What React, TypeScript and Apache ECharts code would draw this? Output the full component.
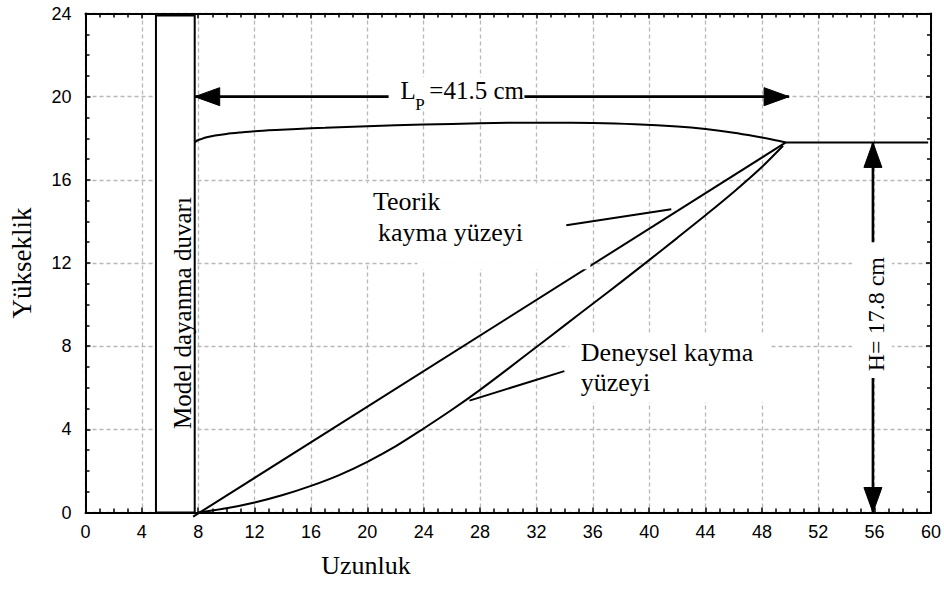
import React, { useEffect, useRef } from "react";
import * as echarts from "echarts";

// ---- data (x: Uzunluk, y: Yükseklik) ----
const theoreticalSurface: number[][] = [
  [7.64, -0.2],
  [49.7, 17.8],
];
const experimentalSurface: number[][] = [
  [8.0, 0], [10, 0.2], [12, 0.48], [14, 0.84], [16, 1.28], [18, 1.8], [20, 2.44],
  [22, 3.18], [24, 4.04], [26, 4.94], [28, 5.9], [30, 6.92], [32, 7.96], [34, 9.0],
  [36, 10.04], [38, 11.08], [40, 12.14], [42, 13.21], [44, 14.3], [46, 15.42],
  [48, 16.62], [49.5, 17.64],
];
const wedgeTop: number[][] = [
  [7.75, 17.8], [7.9, 17.88], [8.2, 17.96], [8.6, 18.05], [9.2, 18.13], [10, 18.21],
  [11, 18.28], [12, 18.34], [13.5, 18.4], [15, 18.45], [17, 18.5], [19, 18.55],
  [22, 18.62], [26, 18.69], [30, 18.74], [33, 18.75], [36, 18.73], [39, 18.67],
  [42, 18.56], [44, 18.44], [46, 18.27], [47.5, 18.1], [48.8, 17.93], [49.7, 17.8],
];
const groundSurface: number[][] = [
  [49.7, 17.8],
  [59.8, 17.8],
];
const wallCorners: number[][] = [
  [5, 23.9],
  [7.75, 0],
];
const lpArrow: number[][] = [
  [7.75, 20],
  [49.93, 20],
];
const hArrow: number[][] = [
  [55.88, 17.8],
  [55.88, 0],
];
const teorikPointer: number[][] = [
  [34.12, 13.82],
  [41.57, 14.59],
];
const deneyselPointer: number[][] = [
  [33.98, 6.8],
  [27.25, 5.38],
];
// white label backgrounds: [x0, y0, x1, y1]
const labelMasks: number[][] = [
  [21.51, 20.94, 31.15, 19.45],
  [19.6, 15.84, 35.83, 12.04],
  [23.56, 12.04, 35.83, 11.7],
  [34.34, 8.53, 48.5, 5.31],
  [54.39, 13.0, 57.23, 6.47],
];
// annotation texts: [x, y, text, size, rotated(0/1), align]
const annotationTexts: (string | number)[][] = [
  [6.91, 9.59, "Model dayanma duvarı", 25, 1, "center"],
  [22.36, 20.32, "L", 25, 0, "left"],
  [23.4, 19.64, "P", 17, 0, "left"],
  [24.4, 20.32, "=41.5 cm", 25, 0, "left"],
  [20.4, 14.98, "Teorik", 26, 0, "left"],
  [20.75, 13.45, "kayma yüzeyi", 26, 0, "left"],
  [35.15, 7.68, "Deneysel kayma", 26, 0, "left"],
  [35.15, 6.27, "yüzeyi", 26, 0, "left"],
  [56.08, 9.54, "H= 17.8 cm", 24, 1, "center"],
];

const SERIF = "'Liberation Serif', 'Times New Roman', serif";
const SANS = "'Liberation Sans', Arial, sans-serif";

function arrowHead(tip: number[], from: number[], len: number, half: number) {
  const dx = tip[0] - from[0];
  const dy = tip[1] - from[1];
  const d = Math.sqrt(dx * dx + dy * dy) || 1;
  const ux = dx / d;
  const uy = dy / d;
  const bx = tip[0] - ux * len;
  const by = tip[1] - uy * len;
  return {
    type: "polygon",
    shape: {
      points: [
        [tip[0], tip[1]],
        [bx - uy * half, by + ux * half],
        [bx + uy * half, by - ux * half],
      ],
    },
    style: { fill: "#000", stroke: "#000", lineWidth: 1 },
  };
}

function renderAnnotations(_params: any, api: any) {
  const children: any[] = [];
  // wall
  const w0 = api.coord(wallCorners[0]);
  const w1 = api.coord(wallCorners[1]);
  children.push({
    type: "rect",
    shape: { x: w0[0], y: w0[1], width: w1[0] - w0[0], height: w1[1] - w0[1] },
    style: { fill: "#fff", stroke: "#000", lineWidth: 2 },
  });
  // arrows
  for (const arr of [lpArrow, hArrow]) {
    const a = api.coord(arr[0]);
    const b = api.coord(arr[1]);
    children.push({
      type: "line",
      shape: { x1: a[0], y1: a[1], x2: b[0], y2: b[1] },
      style: { stroke: "#000", lineWidth: 2.6 },
    });
    children.push(arrowHead(a, b, 25, 9));
    children.push(arrowHead(b, a, 25, 9));
  }
  // white masks
  for (const m of labelMasks) {
    const p0 = api.coord([m[0], m[1]]);
    const p1 = api.coord([m[2], m[3]]);
    children.push({
      type: "rect",
      shape: { x: p0[0], y: p0[1], width: p1[0] - p0[0], height: p1[1] - p0[1] },
      style: { fill: "#fff" },
    });
  }
  // pointers
  for (const pt of [teorikPointer, deneyselPointer]) {
    const a = api.coord(pt[0]);
    const b = api.coord(pt[1]);
    children.push({
      type: "line",
      shape: { x1: a[0], y1: a[1], x2: b[0], y2: b[1] },
      style: { stroke: "#000", lineWidth: 2 },
    });
  }
  // texts
  for (const t of annotationTexts) {
    const p = api.coord([t[0] as number, t[1] as number]);
    children.push({
      type: "text",
      x: p[0],
      y: p[1],
      rotation: t[4] ? Math.PI / 2 : 0,
      style: {
        text: t[2] as string,
        fill: "#000",
        fontSize: t[3] as number,
        fontFamily: SERIF,
        align: t[5] as string,
        verticalAlign: "middle",
      },
    });
  }
  return { type: "group", children };
}

export default function App() {
  const ref = useRef<HTMLDivElement>(null);
  useEffect(() => {
    if (!ref.current) return;
    const chart = echarts.init(ref.current, undefined, { renderer: "svg" });
    const gridLine = { show: true, lineStyle: { color: "#b8b8b8", type: [4, 3], width: 1.3 } };
    const axisLine = { show: true, onZero: false, lineStyle: { color: "#000", width: 2 } };
    const axisTick = { show: true, inside: true, length: 5, lineStyle: { color: "#000", width: 1.5 } };
    const minorTick = { show: true, splitNumber: 4, length: 4, lineStyle: { color: "#000", width: 1.5 } };
    const lineSeries = (data: number[][], extra: any = {}) => ({
      type: "line",
      data,
      showSymbol: false,
      symbol: "none",
      lineStyle: { color: "#000", width: 2 },
      silent: true,
      z: 2,
      ...extra,
    });
    chart.setOption({
      animation: false,
      backgroundColor: "#fff",
      grid: { left: 85.5, right: 12, top: 13.5, bottom: 77.5, containLabel: false },
      xAxis: [
        {
          type: "value", min: 0, max: 60, interval: 4, position: "bottom",
          axisLine, axisTick, minorTick, splitLine: gridLine,
          axisLabel: { color: "#000", fontSize: 18, fontFamily: SANS, margin: 10 },
        },
        {
          type: "value", min: 0, max: 60, interval: 4, position: "top",
          axisLine, axisTick, minorTick, splitLine: { show: false },
          axisLabel: { show: false },
        },
      ],
      yAxis: [
        {
          type: "value", min: 0, max: 24, interval: 4, position: "left",
          axisLine, axisTick, minorTick, splitLine: gridLine,
          axisLabel: { color: "#000", fontSize: 18, fontFamily: SANS, margin: 14 },
        },
        {
          type: "value", min: 0, max: 24, interval: 4, position: "right",
          axisLine, axisTick, minorTick, splitLine: { show: false },
          axisLabel: { show: false },
        },
      ],
      graphic: [
        {
          type: "text", x: 366, y: 565,
          style: { text: "Uzunluk", fill: "#000", fontSize: 26, fontFamily: SERIF, align: "center", verticalAlign: "middle" },
        },
        {
          type: "text", x: 22, y: 263, rotation: Math.PI / 2,
          style: { text: "Yükseklik", fill: "#000", fontSize: 27, fontFamily: SERIF, align: "center", verticalAlign: "middle" },
        },
      ],
      series: [
        lineSeries(theoreticalSurface, { clip: false }),
        lineSeries(experimentalSurface, { smooth: 0.3 }),
        lineSeries(wedgeTop, { smooth: 0.3 }),
        lineSeries(groundSurface),
        {
          type: "custom",
          renderItem: renderAnnotations,
          data: [[0, 0]],
          silent: true,
          clip: false,
          z: 3,
        },
      ],
    });
    return () => chart.dispose();
  }, []);
  return (
    <div
      ref={ref}
      style={{ position: "absolute", left: 0, top: 0, width: 944, height: 590, background: "#fff" }}
    />
  );
}
